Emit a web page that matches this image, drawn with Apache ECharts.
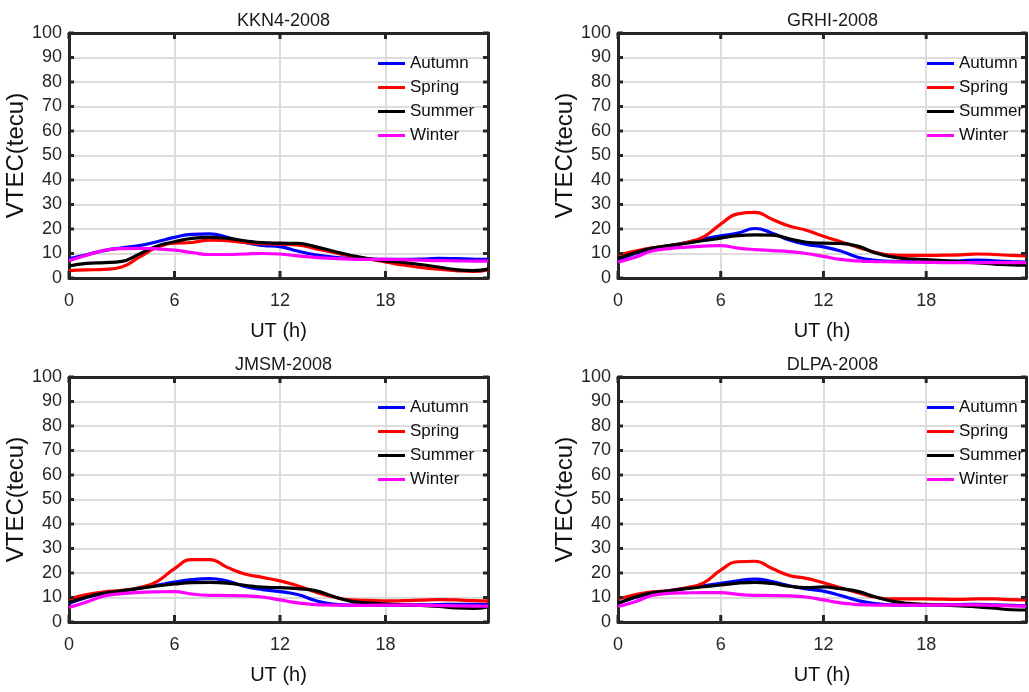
<!DOCTYPE html>
<html>
<head>
<meta charset="utf-8">
<script src="https://cdn.jsdelivr.net/npm/echarts@6/dist/echarts.min.js"></script>
<style>html,body{margin:0;padding:0;background:#fff;}#c{width:1029px;height:692px;}</style>
</head>
<body>
<div id="c"></div>
<script>
// UT hours
const hours = [0,1,2,3,4,5,6,7,8,9,10,11,12,13,14,15,16,17,18,19,20,21,22,23,23.83];
const seasons = ['Autumn','Spring','Summer','Winter'];
const xTicks = [0,6,12,18];
const yTicks = [0,10,20,30,40,50,60,70,80,90,100];
const xMax = 23.83;
const yMax = 100;

// KKN4-2008
const kkn4Autumn = [7.8,9.5,11.2,12.3,13.2,14.8,16.6,17.8,18.0,16.6,14.5,13.3,12.8,11.0,9.5,8.5,8.0,7.8,7.6,7.6,7.7,8.0,7.9,7.7,7.6];
const kkn4Spring = [3.0,3.3,3.5,4.5,8.5,12.5,14.2,14.5,15.5,15.2,14.5,14.0,13.8,13.5,12.0,10.5,9.0,7.8,6.6,5.3,4.3,3.6,3.0,2.7,3.3];
const kkn4Summer = [4.9,6.0,6.3,6.8,9.8,13.0,14.8,16.2,16.6,16.2,15.2,14.4,14.2,14.1,12.8,11.0,9.3,7.9,7.0,6.4,5.5,4.5,3.4,3.0,3.6];
const kkn4Winter = [7.1,9.3,11.3,12.0,12.1,11.9,11.4,10.4,9.6,9.6,9.8,10.0,9.8,9.0,8.4,8.0,7.7,7.6,7.6,7.5,7.3,7.1,7.0,6.9,6.9];

// GRHI-2008
const grhiAutumn = [7.3,10.0,12.0,13.2,14.5,16.0,17.2,18.3,20.2,18.3,15.5,13.7,12.7,11.0,8.5,7.2,6.8,6.7,6.6,6.7,7.0,7.3,7.0,6.7,6.5];
const grhiSpring = [9.4,11.0,12.3,13.2,14.5,16.8,22.0,26.2,26.8,24.0,21.2,19.5,17.0,14.8,12.6,10.5,9.3,9.2,9.2,9.3,9.4,9.8,9.6,9.2,9.0];
const grhiSummer = [8.0,10.3,12.2,13.2,14.2,15.3,16.3,17.3,17.6,17.5,16.0,14.6,14.2,14.1,13.0,10.3,8.6,7.8,7.5,7.1,6.6,6.2,5.7,5.3,5.2];
const grhiWinter = [6.5,8.5,11.0,12.0,12.6,13.0,13.2,12.2,11.6,11.2,10.8,10.0,8.8,7.6,7.0,6.7,6.6,6.5,6.4,6.3,6.3,6.3,6.3,6.3,6.3];

// JMSM-2008
const jmsmAutumn = [7.6,10.0,11.8,12.7,13.8,15.0,16.3,17.3,17.7,16.7,14.5,13.2,12.4,11.2,8.8,7.3,6.9,6.9,6.9,6.9,7.0,7.1,7.2,7.2,7.2];
const jmsmSpring = [9.4,11.2,12.3,12.9,14.0,16.5,21.8,25.5,25.5,22.3,19.6,18.2,16.8,14.8,12.3,10.3,9.0,8.8,8.6,8.7,8.9,9.1,9.0,8.7,8.6];
const jmsmSummer = [8.0,10.2,11.8,12.7,13.7,14.7,15.5,16.1,16.2,15.9,15.0,14.2,14.0,13.6,12.8,10.5,8.5,7.8,7.4,7.0,6.8,6.4,5.8,5.6,6.2];
const jmsmWinter = [5.9,8.2,10.6,11.6,12.1,12.3,12.4,11.4,10.9,10.8,10.7,10.2,9.0,7.8,7.1,6.9,6.8,6.8,6.9,6.9,6.8,6.7,6.6,6.5,6.5];

// DLPA-2008
const dlpaAutumn = [7.6,10.0,11.8,12.8,13.8,14.8,15.8,16.8,17.5,16.5,14.8,13.5,12.6,10.8,8.8,7.5,7.0,6.9,6.9,7.0,7.1,7.2,7.0,6.8,6.6];
const dlpaSpring = [9.4,11.1,12.3,12.8,14.0,16.0,21.2,24.6,24.8,21.8,19.0,17.8,16.0,14.0,12.0,10.2,9.4,9.4,9.4,9.3,9.2,9.4,9.4,9.1,9.0];
const dlpaSummer = [7.6,10.2,11.9,12.7,13.6,14.4,15.1,15.9,16.2,15.7,14.6,14.0,14.3,13.6,12.5,10.3,8.5,7.6,7.2,6.9,6.6,6.2,5.6,5.0,4.9];
const dlpaWinter = [6.3,8.3,10.8,11.7,11.9,12.0,12.0,11.3,10.9,10.8,10.7,10.2,9.0,7.8,7.1,6.9,6.9,6.9,6.9,6.9,7.0,7.0,6.8,6.6,6.5];

const panels = [
  {title:'KKN4-2008', data:[kkn4Autumn,kkn4Spring,kkn4Summer,kkn4Winter], left:69, top:33},
  {title:'GRHI-2008', data:[grhiAutumn,grhiSpring,grhiSummer,grhiWinter], left:618, top:33},
  {title:'JMSM-2008', data:[jmsmAutumn,jmsmSpring,jmsmSummer,jmsmWinter], left:69, top:377},
  {title:'DLPA-2008', data:[dlpaAutumn,dlpaSpring,dlpaSummer,dlpaWinter], left:618, top:377}
];
const colors = ['#0000ff','#ff0000','#000000','#ff00ff'];
const W = 419, H = 245;
const FONT = 'Liberation Sans, Arial, sans-serif';
const AX = '#262626';

const option = {animation:false, backgroundColor:'#fff', title:[], legend:[], grid:[], xAxis:[], yAxis:[], series:[]};
const axLine = {show:true, onZero:false, lineStyle:{color:AX, width:3}};

panels.forEach((p, i) => {
  option.grid.push({left:p.left, top:p.top, width:W, height:H, containLabel:false});
  option.title.push({text:p.title, left:p.left + W/2, top:p.top - 26, textAlign:'center',
    textStyle:{fontFamily:FONT, fontSize:18, fontWeight:'normal', color:'#1a1a1a'}});
  option.legend.push({data:seasons, orient:'vertical', left:p.left + 304, top:p.top + 17,
    icon:'rect', itemWidth:27, itemHeight:3, itemGap:7,
    textStyle:{fontFamily:FONT, fontSize:17, color:'#111'}});
  const xCommon = {type:'value', gridIndex:i, min:0, max:xMax, interval:6};
  const yCommon = {type:'value', gridIndex:i, min:0, max:yMax, interval:10};
  option.xAxis.push(Object.assign({}, xCommon, {
    position:'bottom', name:'UT (h)', nameLocation:'middle', nameGap:43,
    nameTextStyle:{fontFamily:FONT, fontSize:20, color:'#111'},
    axisLine:axLine, axisTick:{show:false},
    axisLabel:{margin:14, fontFamily:FONT, fontSize:18, color:AX,
      formatter: v => xTicks.indexOf(v) >= 0 ? String(v) : ''},
    splitLine:{show:true, showMinLine:false, showMaxLine:false, lineStyle:{color:'#dcdcdc', width:2}}
  }));
  option.xAxis.push(Object.assign({}, xCommon, {
    position:'top', axisLine:axLine,
    axisTick:{show:false}, axisLabel:{show:false}, splitLine:{show:false}
  }));
  option.yAxis.push(Object.assign({}, yCommon, {
    position:'left', name:'VTEC(tecu)', nameLocation:'middle', nameGap:37,
    nameTextStyle:{fontFamily:FONT, fontSize:24, color:'#111'},
    axisLine:axLine, axisTick:{show:false},
    axisLabel:{margin:7, fontFamily:FONT, fontSize:18, color:AX,
      formatter: v => yTicks.indexOf(v) >= 0 ? String(v) : ''},
    splitLine:{show:true, showMinLine:false, showMaxLine:false, lineStyle:{color:'#dcdcdc', width:2}}
  }));
  option.yAxis.push(Object.assign({}, yCommon, {
    position:'right', axisLine:axLine,
    axisTick:{show:false}, axisLabel:{show:false}, splitLine:{show:false}
  }));
  p.data.forEach((arr, k) => {
    option.series.push({
      name:seasons[k], type:'line', xAxisIndex:2*i, yAxisIndex:2*i,
      data: hours.map((h, j) => [h, arr[j]]),
      smooth:0.5, showSymbol:false, symbol:'none',
      lineStyle:{color:colors[k], width:3.2}, itemStyle:{color:colors[k]}
    });
  });
  // inward tick marks on all four sides, placed through the axes' scales
  option.series.push({
    type:'custom', name:'xticks', xAxisIndex:2*i, yAxisIndex:2*i, silent:true, clip:false, z:5,
    data: xTicks.map(v => [v, 0]),
    renderItem: (params, api) => {
      const v = api.value(0);
      const b = api.coord([v, 0]);
      const t = api.coord([v, yMax]);
      return {type:'group', children:[
        {type:'line', shape:{x1:b[0], y1:b[1], x2:b[0], y2:b[1]-7}, style:{stroke:AX, lineWidth:3}},
        {type:'line', shape:{x1:t[0], y1:t[1], x2:t[0], y2:t[1]+6}, style:{stroke:AX, lineWidth:3}}
      ]};
    }
  });
  option.series.push({
    type:'custom', name:'yticks', xAxisIndex:2*i, yAxisIndex:2*i, silent:true, clip:false, z:5,
    data: yTicks.map(v => [0, v]),
    renderItem: (params, api) => {
      const v = api.value(1);
      const l = api.coord([0, v]);
      const r = api.coord([xMax, v]);
      return {type:'group', children:[
        {type:'line', shape:{x1:l[0], y1:l[1], x2:l[0]+5, y2:l[1]}, style:{stroke:AX, lineWidth:3}},
        {type:'line', shape:{x1:r[0], y1:r[1], x2:r[0]-5, y2:r[1]}, style:{stroke:AX, lineWidth:3}}
      ]};
    }
  });
});

const chart = echarts.init(document.getElementById('c'), null, {renderer:'canvas'});
chart.setOption(option);
</script>
</body>
</html>
